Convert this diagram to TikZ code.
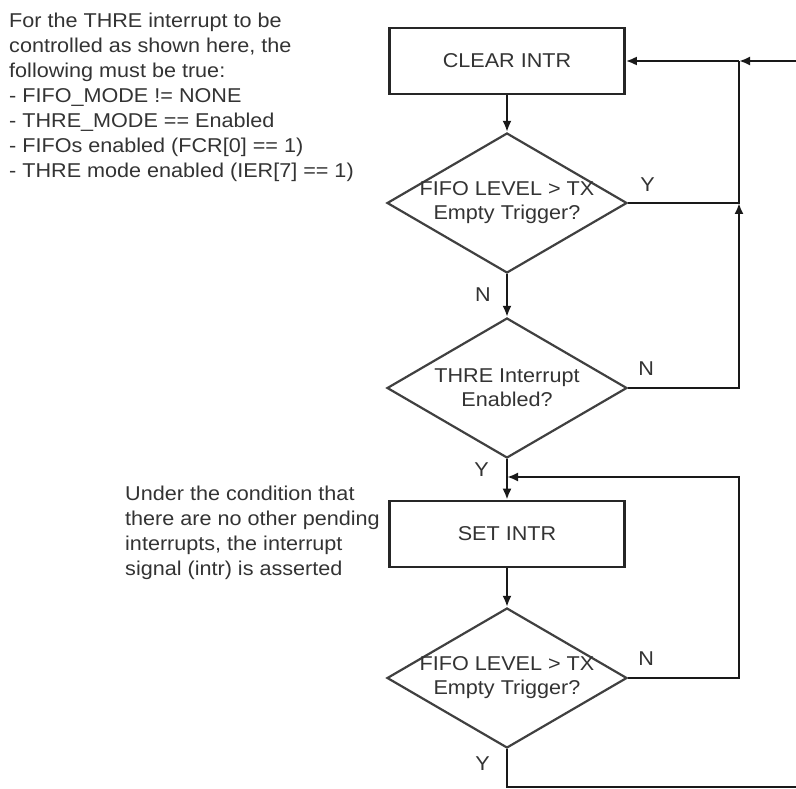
\documentclass[tikz,border=0pt]{standalone}
\usepackage{fontspec}
\setmainfont[FakeStretch=1.08]{Liberation Sans}
\usetikzlibrary{shapes.geometric}
\usetikzlibrary{arrows.meta}
\usetikzlibrary{positioning}

\tikzset{
	block/.style={rectangle, draw=black!85, line width=2.6pt, minimum width=235pt, minimum height=66pt, inner sep=0pt, text=black!80, font=\fontsize{20}{24}\selectfont},
	decision/.style={diamond, draw=black!75, line width=2.2pt, aspect=1.714, minimum width=240pt, minimum height=140pt, inner xsep=-8pt, inner ysep=-4pt, align=center, text=black!80, font=\fontsize{20}{24}\selectfont},
	flow/.style={draw=black!90, line width=2.2pt, -{Latex[length=11pt,width=9pt]}},
	link/.style={draw=black!90, line width=2.2pt},
	answer/.style={inner sep=0pt, text=black!80, font=\fontsize{20}{24}\selectfont},
	note/.style={inner sep=0pt, anchor=north west, align=left, text=black!80, font=\fontsize{20}{25}\selectfont}
}

\begin{document}
\begin{tikzpicture}[x=1pt,y=-1pt]
		\useasboundingbox (0,0) rectangle (796,789);
		% notes
		\node[note] (cond) at (9,12.5) {For the THRE interrupt to be\\controlled as shown here, the\\following must be true:\\- FIFO\_MODE != NONE\\- THRE\_MODE == Enabled\\- FIFOs enabled (FCR[0] == 1)\\- THRE mode enabled (IER[7] == 1)};
		\node[note] (assert) at (125,485.5) {Under the condition that\\there are no other pending\\interrupts, the interrupt\\signal (intr) is asserted};
		% flow
		\node[block] (clear) at (507,61) {CLEAR INTR};
		\node[decision] (lvlA) at (507,203) {FIFO LEVEL > TX\\Empty Trigger?};
		\node[decision] (thre) at (507,388) {THRE Interrupt\\Enabled?};
		\node[block] (set) at (507,534) {SET INTR};
		\node[decision] (lvlB) at (507,678) {FIFO LEVEL > TX\\Empty Trigger?};
		% answers
		\node[answer, above right=11pt and 12pt of lvlA.east] (yA) {Y};
		\node[answer, below left=13pt and 16pt of lvlA.south] (nA) {N};
		\node[answer, above right=12pt and 10pt of thre.east] (nT) {N};
		\node[answer, below left=3pt and 18pt of thre.south] (yT) {Y};
		\node[answer, above right=12pt and 10pt of lvlB.east] (nB) {N};
		\node[answer, below left=7pt and 17pt of lvlB.south] (yB) {Y};
		% corners
		\coordinate (inR) at (796,61);
		\coordinate (outR) at (796,787);
		\coordinate (jA) at (739,61);
		\coordinate (jB) at (jA |- lvlA.east);
		\coordinate (jC) at (jA |- thre.east);
		\coordinate (jD) at (739,477);
		\coordinate (jE) at (jA |- lvlB.east);
		\coordinate (mD) at (thre.south |- jD);
		\coordinate (bB) at (lvlB.south |- outR);
		% connectors
		\draw[flow] (clear) -- (lvlA);
		\draw[flow] (lvlA) -- (thre);
		\draw[flow] (thre) -- (set);
		\draw[flow] (set) -- (lvlB);
		\draw[flow] (inR) -- (jA);
		\draw[flow] (jA) -- (clear);
		\draw[link] (lvlA.east) -- (jB) -- (jA);
		\draw[flow] (thre.east) -- (jC) -- (jB);
		\draw[flow] (lvlB.east) -- (jE) -- (jD) -- (mD);
		\draw[link] (lvlB.south) -- (bB) -- (outR);
\end{tikzpicture}
\end{document}
